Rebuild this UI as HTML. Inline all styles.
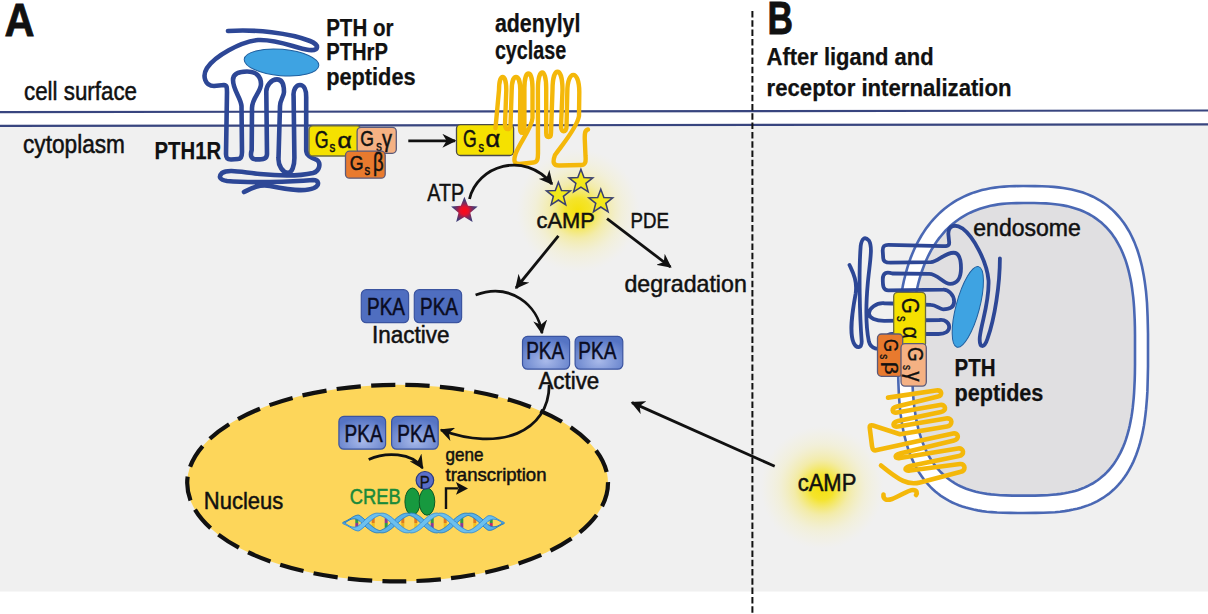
<!DOCTYPE html>
<html><head><meta charset="utf-8"><title>PTH signaling</title>
<style>html,body{margin:0;padding:0;background:#fff;overflow:hidden} svg{display:block}</style>
</head><body><svg width="1208" height="614" viewBox="0 0 1208 614" font-family='"Liberation Sans", sans-serif'>
<defs>
 <radialGradient id="glow" cx="0.5" cy="0.5" r="0.5">
  <stop offset="0" stop-color="#f5e000" stop-opacity="0.95"/>
  <stop offset="0.2" stop-color="#f5e20a" stop-opacity="0.85"/>
  <stop offset="0.45" stop-color="#f5e870" stop-opacity="0.55"/>
  <stop offset="0.7" stop-color="#f5eeb0" stop-opacity="0.35"/>
  <stop offset="0.88" stop-color="#f5f0c8" stop-opacity="0.18"/>
  <stop offset="1" stop-color="#f5f0d8" stop-opacity="0"/>
 </radialGradient>
 <radialGradient id="redstar" cx="0.5" cy="0.55" r="0.5">
  <stop offset="0" stop-color="#ff0818"/>
  <stop offset="0.3" stop-color="#e8102a"/>
  <stop offset="0.55" stop-color="#8a2858"/>
  <stop offset="0.8" stop-color="#4a3a72"/>
  <stop offset="1" stop-color="#3c3a78"/>
 </radialGradient>
 <radialGradient id="pkaAct" cx="0.5" cy="0.75" r="0.7">
  <stop offset="0" stop-color="#a9baea"/>
  <stop offset="1" stop-color="#5574c4"/>
 </radialGradient>
 <marker id="ah" viewBox="0 0 10 10" refX="9" refY="5" markerWidth="5" markerHeight="5" orient="auto" markerUnits="strokeWidth">
  <path d="M0 0 L10 5 L0 10 L3 5 Z" fill="#111"/>
 </marker>
</defs><rect x="0" y="0" width="1208" height="614" fill="#ffffff"/>
<polygon points="0,126.3 1208,124.7 1208,591.5 0,591.5" fill="#f0f0f0"/>
<line x1="0" y1="112.1" x2="1208" y2="110.5" stroke="#38457f" stroke-width="2.2"/>
<line x1="0" y1="125.9" x2="1208" y2="124.3" stroke="#38457f" stroke-width="2.2"/>
<line x1="752.4" y1="11" x2="752.4" y2="614" stroke="#111" stroke-width="2" stroke-dasharray="6.5 2.8"/>
<circle cx="578" cy="210.5" r="62" fill="url(#glow)"/>
<circle cx="822" cy="487.5" r="62" fill="url(#glow)"/>
<ellipse cx="397.6" cy="483.1" rx="210.4" ry="98.3" fill="#fdd65a" stroke="#111" stroke-width="4.2" stroke-dasharray="24.3 10.2"/>
<ellipse cx="281.5" cy="62.5" rx="37.4" ry="13.2" transform="rotate(5 281.5 62.5)" fill="#3ea3e2" stroke="#1f5f9f" stroke-width="1"/>
<path d="M 228 31 C 255 29, 290 33, 310 41 C 320 45, 319 51, 309 50 C 295 48, 278 39, 258 40 C 240 42, 215 56, 207 68 C 202 76, 205 86, 214 86 L 224 85 C 227 85, 227 88, 227 92 L 226 154 C 226 158, 227 159.5, 231 159.5 L 238 159 C 241 159, 242 156, 242 152 L 241.5 106 C 241 98, 233 90, 233 80 C 233 74, 238 71.5, 247 71.5 C 256 71.5, 261 76, 261 84 C 261 92, 252 98, 252 108 L 251.7 150 C 250 156, 251 159.4, 257 159.4 C 263 159.4, 267 159, 267 154 L 266.3 92 C 266 86, 271 79.4, 277 79.4 C 282 79.4, 284 84, 284 92 C 284 96, 280 100, 280 106 L 278.5 158 C 278 166, 283 172.8, 288 172.8 C 292 172.8, 294.4 166, 294.4 158 L 293.6 96 C 293 90, 296 85, 300 85 C 304 85, 306.2 90, 306.2 97 L 306.2 150 C 306 156, 312 158, 317 160 C 321 163, 320 171, 313 173 C 300 176, 280 176, 260 174 C 240 172, 228 169, 222 173 C 218 177, 220 180, 227 181 C 250 183, 290 182, 313 180 C 319 180, 320 185, 314 188 C 305 192, 290 190, 270 186 C 258 184, 250 189, 244 192" fill="none" stroke="#2d4796" stroke-width="4.6" stroke-linecap="round" stroke-linejoin="round"/>
<rect x="309" y="125.8" width="52" height="30.2" rx="4" ry="4" fill="#f5e100" stroke="#6a6a40" stroke-width="1.3"/>
<text x="314.8" y="148" font-size="23" textLength="13.8" lengthAdjust="spacingAndGlyphs" fill="#111" stroke="#111" stroke-width="0.5" >G</text>
<text x="329.6" y="152.3" font-size="14.3" textLength="5.8" lengthAdjust="spacingAndGlyphs" fill="#111" stroke="#111" stroke-width="0.5" >s</text>
<text x="337.6" y="148" font-size="22.4" textLength="14.3" lengthAdjust="spacingAndGlyphs" fill="#111" stroke="#111" stroke-width="0.5" >α</text>
<rect x="357.1" y="127.4" width="39.2" height="25.9" rx="4" ry="4" fill="#f5b183" stroke="#5a5a7a" stroke-width="1.3"/>
<text x="360.3" y="146" font-size="22.4" textLength="13.7" lengthAdjust="spacingAndGlyphs" fill="#111" stroke="#111" stroke-width="0.5" >G</text>
<text x="376.2" y="150.7" font-size="14" textLength="5.6" lengthAdjust="spacingAndGlyphs" fill="#111" stroke="#111" stroke-width="0.5" >s</text>
<text x="382" y="146.6" font-size="24.5" textLength="10" lengthAdjust="spacingAndGlyphs" fill="#111" stroke="#111" stroke-width="0.5" >γ</text>
<rect x="345.5" y="151.2" width="39.7" height="27" rx="4" ry="4" fill="#e87a2e" stroke="#5a5a7a" stroke-width="1.3"/>
<text x="349.7" y="170.3" font-size="20" textLength="13.8" lengthAdjust="spacingAndGlyphs" fill="#111" stroke="#111" stroke-width="0.5" >G</text>
<text x="364.6" y="175" font-size="14" textLength="5.6" lengthAdjust="spacingAndGlyphs" fill="#111" stroke="#111" stroke-width="0.5" >s</text>
<text x="373" y="170.9" font-size="25" textLength="10.6" lengthAdjust="spacingAndGlyphs" fill="#111" stroke="#111" stroke-width="0.5" >β</text>
<rect x="456.5" y="124.6" width="57.1" height="30.9" rx="4" ry="4" fill="#f5e100" stroke="#4a4a4a" stroke-width="1.3"/>
<text x="463" y="147.4" font-size="24.5" textLength="13.7" lengthAdjust="spacingAndGlyphs" fill="#111" stroke="#111" stroke-width="0.5" >G</text>
<text x="478.4" y="151.9" font-size="15" textLength="5.5" lengthAdjust="spacingAndGlyphs" fill="#111" stroke="#111" stroke-width="0.5" >s</text>
<text x="485.5" y="147.4" font-size="23.9" textLength="14.7" lengthAdjust="spacingAndGlyphs" fill="#111" stroke="#111" stroke-width="0.5" >α</text>
<path d="M 495.5 128 L 499 90 C 499 72.5, 506.3 72.5, 506.3 90 L 505 125 C 505 130.5, 510.5 130.5, 510.5 125 L 511.7 90 C 511.7 72.5, 520.3 72.5, 520.3 90 L 520 128 C 520 134.5, 524.4 134.5, 524.4 128 L 524.4 88 C 524.4 68.5, 532.5 68.5, 532.5 88 L 532.5 118 C 532 128, 520 142, 515.5 154 C 513 162, 515 164, 519.5 164 L 533.5 162.5 C 537.5 162, 538 159, 538 153 L 537.9 90 C 537.9 67, 546.2 67, 546.2 88 L 546.2 133 C 546.2 138.3, 551 138.3, 551 133 L 552.5 90 C 552.5 65.6, 562.5 65.6, 562.5 90 L 561 127 C 561 132.6, 566.5 132.6, 566.5 127 L 567.3 92 C 567.3 69.2, 579.3 69.2, 579.3 92 L 579 116 C 577 128, 562 145, 555 155 C 552 163, 554 165.5, 559 165.5 L 581 165 C 585.5 165, 586 162, 585.5 156 L 584.8 140 C 584.5 133, 585 130, 588 129.5" fill="none" stroke="#f4b80a" stroke-width="4.4" stroke-linecap="round" stroke-linejoin="round"/>
<line x1="408.3" y1="140.8" x2="455" y2="140.8" fill="none" stroke="#111" stroke-width="2.8" marker-end="url(#ah)"/>
<path d="M 469.5 199 C 477 166, 524 150, 552 184" fill="none" stroke="#111" stroke-width="2.8" marker-end="url(#ah)"/>
<line x1="558.4" y1="235.9" x2="516" y2="288" fill="none" stroke="#111" stroke-width="2.8" marker-end="url(#ah)"/>
<line x1="607" y1="218.6" x2="670.5" y2="267" fill="none" stroke="#111" stroke-width="2.8" marker-end="url(#ah)"/>
<path d="M 475.6 295 C 510 282, 538 305, 542 333" fill="none" stroke="#111" stroke-width="2.8" marker-end="url(#ah)"/>
<path d="M 549.2 384.7 C 549 432, 500 452, 441 430" fill="none" stroke="#111" stroke-width="2.8" marker-end="url(#ah)"/>
<path d="M 368.7 459.5 C 385 452, 412 452, 422.5 468" fill="none" stroke="#111" stroke-width="2.8" marker-end="url(#ah)"/>
<line x1="774.7" y1="466.3" x2="632" y2="402.6" fill="none" stroke="#111" stroke-width="2.8" marker-end="url(#ah)"/>
<polygon points="464.4,196.8 468.0,205.8 477.7,206.5 470.3,212.7 472.6,222.1 464.4,217.0 456.2,222.1 458.5,212.7 451.1,206.5 460.8,205.8" fill="url(#redstar)"/>
<polygon points="558.4,182.2 561.5,190.4 570.3,190.8 563.4,196.3 565.7,204.8 558.4,200.0 551.1,204.8 553.4,196.3 546.5,190.8 555.3,190.4" fill="#f2e81b" stroke="#3a4070" stroke-width="1.5"/>
<polygon points="580.9,169.3 584.0,177.5 592.8,177.9 585.9,183.4 588.2,191.9 580.9,187.1 573.6,191.9 575.9,183.4 569.0,177.9 577.8,177.5" fill="#f2e81b" stroke="#3a4070" stroke-width="1.5"/>
<polygon points="600.8,189.2 603.9,197.4 612.7,197.8 605.8,203.3 608.1,211.8 600.8,207.0 593.5,211.8 595.8,203.3 588.9,197.8 597.7,197.4" fill="#f2e81b" stroke="#3a4070" stroke-width="1.5"/>
<rect x="361.3" y="289.7" width="47.3" height="33" rx="5" ry="5" fill="#4f6ec0" stroke="#3b54a0" stroke-width="1.2"/><text x="367.0" y="315.3" font-size="24" textLength="38" lengthAdjust="spacingAndGlyphs" fill="#0a0c22" stroke="#0a0c22" stroke-width="0.5" >PKA</text>
<rect x="414.3" y="289.7" width="47.3" height="33" rx="5" ry="5" fill="#4f6ec0" stroke="#3b54a0" stroke-width="1.2"/><text x="420.0" y="315.3" font-size="24" textLength="38" lengthAdjust="spacingAndGlyphs" fill="#0a0c22" stroke="#0a0c22" stroke-width="0.5" >PKA</text>
<rect x="522.5" y="336.4" width="47.1" height="32.8" rx="5" ry="5" fill="url(#pkaAct)" stroke="#3b54a0" stroke-width="1.2"/><text x="526.2" y="359.3" font-size="24" textLength="38" lengthAdjust="spacingAndGlyphs" fill="#0a0c22" stroke="#0a0c22" stroke-width="0.5" >PKA</text>
<rect x="575.1" y="336.4" width="47.7" height="32.8" rx="5" ry="5" fill="url(#pkaAct)" stroke="#3b54a0" stroke-width="1.2"/><text x="578.3" y="359.3" font-size="24" textLength="38" lengthAdjust="spacingAndGlyphs" fill="#0a0c22" stroke="#0a0c22" stroke-width="0.5" >PKA</text>
<rect x="338.9" y="416.4" width="46.7" height="32.8" rx="5" ry="5" fill="url(#pkaAct)" stroke="#3b54a0" stroke-width="1.2"/><text x="344.6" y="442.0" font-size="24" textLength="38" lengthAdjust="spacingAndGlyphs" fill="#0a0c22" stroke="#0a0c22" stroke-width="0.5" >PKA</text>
<rect x="391.6" y="416.4" width="46.6" height="32.8" rx="5" ry="5" fill="url(#pkaAct)" stroke="#3b54a0" stroke-width="1.2"/><text x="397.3" y="442.0" font-size="24" textLength="38" lengthAdjust="spacingAndGlyphs" fill="#0a0c22" stroke="#0a0c22" stroke-width="0.5" >PKA</text>
<ellipse cx="412.5" cy="501.6" rx="7.6" ry="13.6" fill="#17993f" stroke="#0b5a24" stroke-width="1"/>
<ellipse cx="427" cy="501.6" rx="7.8" ry="13.6" fill="#17993f" stroke="#0b5a24" stroke-width="1"/>
<circle cx="424.9" cy="480.3" r="8.8" fill="#5a6ec8" stroke="#2a3a80" stroke-width="1.2"/>
<text x="419.8" y="487.8" font-size="17" textLength="10" lengthAdjust="spacingAndGlyphs" fill="#111" stroke="#111" stroke-width="0.3" >P</text>
<line x1="356.8" y1="518.3" x2="356.8" y2="523.0" stroke="#2f9a4a" stroke-width="3"/><line x1="356.8" y1="523.0" x2="356.8" y2="527.7" stroke="#8a3a98" stroke-width="3"/><line x1="373.2" y1="517.4" x2="373.2" y2="523.0" stroke="#e07a1f" stroke-width="3"/><line x1="373.2" y1="523.0" x2="373.2" y2="528.6" stroke="#f0c020" stroke-width="3"/><line x1="386.2" y1="517.4" x2="386.2" y2="523.0" stroke="#8a3a98" stroke-width="3"/><line x1="386.2" y1="523.0" x2="386.2" y2="528.6" stroke="#2f9a4a" stroke-width="3"/><line x1="402.8" y1="517.4" x2="402.8" y2="523.0" stroke="#e07a1f" stroke-width="3"/><line x1="402.8" y1="523.0" x2="402.8" y2="528.6" stroke="#e8b020" stroke-width="3"/><line x1="415.8" y1="517.4" x2="415.8" y2="523.0" stroke="#e07a1f" stroke-width="3"/><line x1="415.8" y1="523.0" x2="415.8" y2="528.6" stroke="#f0c020" stroke-width="3"/><line x1="432.2" y1="517.4" x2="432.2" y2="523.0" stroke="#2f9a4a" stroke-width="3"/><line x1="432.2" y1="523.0" x2="432.2" y2="528.6" stroke="#8a3a98" stroke-width="3"/><line x1="445.2" y1="517.4" x2="445.2" y2="523.0" stroke="#e07a1f" stroke-width="3"/><line x1="445.2" y1="523.0" x2="445.2" y2="528.6" stroke="#f0c020" stroke-width="3"/><line x1="461.8" y1="517.4" x2="461.8" y2="523.0" stroke="#2f9a4a" stroke-width="3"/><line x1="461.8" y1="523.0" x2="461.8" y2="528.6" stroke="#8a3a98" stroke-width="3"/><line x1="474.8" y1="517.4" x2="474.8" y2="523.0" stroke="#e07a1f" stroke-width="3"/><line x1="474.8" y1="523.0" x2="474.8" y2="528.6" stroke="#f0c020" stroke-width="3"/><line x1="491.2" y1="518.7" x2="491.2" y2="523.0" stroke="#2f9a4a" stroke-width="3"/><line x1="491.2" y1="523.0" x2="491.2" y2="527.3" stroke="#c02a6a" stroke-width="3"/><path d="M 343.0 522.3 L 344.0 521.9 L 345.0 521.4 L 346.0 521.0 L 347.0 520.5 L 348.0 519.9 L 349.0 519.3 L 350.0 518.8 L 351.1 518.1 L 352.1 517.4 L 353.1 516.8 L 354.1 516.3 L 355.1 515.8 L 356.1 515.5 L 357.1 515.2 L 358.1 515.1 L 359.1 515.2 L 360.1 515.9 L 361.1 516.6 L 362.1 517.4 L 363.1 518.2 L 364.1 519.1 L 365.1 520.0 L 366.1 521.0 L 367.1 521.9 L 368.2 522.9 L 369.2 523.8 L 370.2 524.7 L 371.2 525.6 L 372.2 526.4 L 373.2 527.2 L 374.2 528.0 L 375.2 528.6 L 376.2 529.2 L 377.2 529.7 L 378.2 530.1 L 379.2 530.5 L 380.2 530.5 L 381.2 530.2 L 382.2 529.7 L 383.2 529.2 L 384.3 528.7 L 385.3 528.0 L 386.3 527.3 L 387.3 526.5 L 388.3 525.6 L 389.3 524.7 L 390.3 523.8 L 391.3 522.9 L 392.3 521.9 L 393.3 521.0 L 394.3 520.1 L 395.3 519.2 L 396.3 518.3 L 397.3 517.4 L 398.3 516.7 L 399.4 515.9 L 400.4 515.3 L 401.4 514.7 L 402.4 514.2 L 403.4 513.8 L 404.4 513.5 L 405.4 513.3 L 406.4 513.2 L 407.4 513.2 L 408.4 513.2 L 409.4 513.4 L 410.4 513.2 L 411.4 513.1 L 412.4 513.2 L 413.4 513.3 L 414.4 513.6 L 415.4 513.9 L 416.5 514.4 L 417.5 514.9 L 418.5 515.5 L 419.5 516.2 L 420.5 516.9 L 421.5 517.7 L 422.5 518.6 L 423.5 519.4 L 424.5 520.4 L 425.5 521.3 L 426.5 522.3 L 427.5 523.2 L 428.5 524.1 L 429.5 525.0 L 430.5 525.9 L 431.6 526.7 L 432.6 527.5 L 433.6 528.2 L 434.6 528.9 L 435.6 529.4 L 436.6 529.9 L 437.6 530.3 L 438.6 530.6 L 439.6 530.4 L 440.6 530.0 L 441.6 529.6 L 442.6 529.0 L 443.6 528.4 L 444.6 527.7 L 445.6 527.0 L 446.6 526.2 L 447.6 525.3 L 448.7 524.4 L 449.7 523.5 L 450.7 522.5 L 451.7 521.6 L 452.7 520.7 L 453.7 519.7 L 454.7 518.8 L 455.7 518.0 L 456.7 517.1 L 457.7 516.4 L 458.7 515.7 L 459.7 515.1 L 460.7 514.5 L 461.7 514.0 L 462.7 513.7 L 463.8 513.4 L 464.8 513.2 L 465.8 513.2 L 466.8 513.2 L 467.8 513.3 L 468.8 513.3 L 469.8 513.2 L 470.8 513.2 L 471.8 513.2 L 472.8 513.4 L 473.8 513.7 L 474.8 514.1 L 475.8 514.5 L 476.8 515.1 L 477.8 515.7 L 478.8 516.4 L 479.9 517.2 L 480.9 518.0 L 481.9 518.9 L 482.9 519.8 L 483.9 520.7 L 484.9 521.7 L 485.9 522.6 L 486.9 523.5 L 487.9 524.5 L 488.9 525.2 L 489.9 525.8 L 490.9 526.3 L 491.9 526.6 L 492.9 526.8 L 493.9 526.8 L 494.9 526.7 L 495.9 526.5 L 497.0 526.3 L 498.0 525.8 L 499.0 525.3 L 500.0 524.7 L 501.0 524.0 L 502.0 523.4 L 503.0 522.8 L 504.0 522.3 L 504.0 523.7 L 503.0 524.1 L 502.0 524.5 L 501.0 525.0 L 500.0 525.6 L 499.0 526.1 L 498.0 526.6 L 497.0 527.3 L 495.9 528.0 L 494.9 528.6 L 493.9 529.1 L 492.9 529.6 L 491.9 530.0 L 490.9 530.2 L 489.9 530.3 L 488.9 530.3 L 487.9 530.1 L 486.9 529.4 L 485.9 528.6 L 484.9 527.8 L 483.9 526.9 L 482.9 526.0 L 481.9 525.0 L 480.9 524.1 L 479.9 523.2 L 478.8 522.2 L 477.8 521.3 L 476.8 520.4 L 475.8 519.6 L 474.8 518.8 L 473.8 518.0 L 472.8 517.4 L 471.8 516.8 L 470.8 516.3 L 469.8 515.9 L 468.8 515.5 L 467.8 515.5 L 466.8 515.8 L 465.8 516.2 L 464.8 516.8 L 463.8 517.3 L 462.7 518.0 L 461.7 518.7 L 460.7 519.5 L 459.7 520.4 L 458.7 521.2 L 457.7 522.2 L 456.7 523.1 L 455.7 524.0 L 454.7 525.0 L 453.7 525.9 L 452.7 526.8 L 451.7 527.7 L 450.7 528.6 L 449.7 529.3 L 448.7 530.1 L 447.6 530.7 L 446.6 531.3 L 445.6 531.8 L 444.6 532.2 L 443.6 532.5 L 442.6 532.7 L 441.6 532.8 L 440.6 532.8 L 439.6 532.8 L 438.6 532.6 L 437.6 532.8 L 436.6 532.9 L 435.6 532.8 L 434.6 532.7 L 433.6 532.4 L 432.6 532.1 L 431.6 531.7 L 430.5 531.1 L 429.5 530.5 L 428.5 529.9 L 427.5 529.1 L 426.5 528.3 L 425.5 527.5 L 424.5 526.6 L 423.5 525.6 L 422.5 524.7 L 421.5 523.8 L 420.5 522.8 L 419.5 521.9 L 418.5 521.0 L 417.5 520.1 L 416.5 519.3 L 415.4 518.5 L 414.4 517.8 L 413.4 517.1 L 412.4 516.6 L 411.4 516.1 L 410.4 515.7 L 409.4 515.4 L 408.4 515.6 L 407.4 516.0 L 406.4 516.4 L 405.4 517.0 L 404.4 517.6 L 403.4 518.3 L 402.4 519.0 L 401.4 519.8 L 400.4 520.7 L 399.4 521.6 L 398.3 522.5 L 397.3 523.4 L 396.3 524.4 L 395.3 525.3 L 394.3 526.3 L 393.3 527.2 L 392.3 528.0 L 391.3 528.9 L 390.3 529.6 L 389.3 530.3 L 388.3 530.9 L 387.3 531.5 L 386.3 532.0 L 385.3 532.3 L 384.3 532.6 L 383.2 532.8 L 382.2 532.8 L 381.2 532.8 L 380.2 532.7 L 379.2 532.7 L 378.2 532.8 L 377.2 532.8 L 376.2 532.8 L 375.2 532.6 L 374.2 532.3 L 373.2 531.9 L 372.2 531.5 L 371.2 530.9 L 370.2 530.3 L 369.2 529.6 L 368.2 528.8 L 367.1 528.0 L 366.1 527.1 L 365.1 526.2 L 364.1 525.3 L 363.1 524.4 L 362.1 523.4 L 361.1 522.5 L 360.1 521.5 L 359.1 520.6 L 358.1 520.0 L 357.1 519.5 L 356.1 519.1 L 355.1 518.9 L 354.1 518.8 L 353.1 518.9 L 352.1 519.0 L 351.1 519.3 L 350.0 519.7 L 349.0 520.3 L 348.0 520.8 L 347.0 521.5 L 346.0 522.1 L 345.0 522.7 L 344.0 523.3 L 343.0 523.7 Z" fill="#5ab2e8" stroke="#2a7fc0" stroke-width="1"/><path d="M 343.0 522.3 L 344.0 522.7 L 345.0 523.3 L 346.0 523.9 L 347.0 524.5 L 348.0 525.2 L 349.0 525.7 L 350.0 526.3 L 351.1 526.7 L 352.1 527.0 L 353.1 527.1 L 354.1 527.2 L 355.1 527.1 L 356.1 526.9 L 357.1 526.5 L 358.1 526.0 L 359.1 525.4 L 360.1 524.5 L 361.1 523.5 L 362.1 522.6 L 363.1 521.6 L 364.1 520.7 L 365.1 519.8 L 366.1 518.9 L 367.1 518.0 L 368.2 517.2 L 369.2 516.4 L 370.2 515.7 L 371.2 515.1 L 372.2 514.5 L 373.2 514.1 L 374.2 513.7 L 375.2 513.4 L 376.2 513.2 L 377.2 513.2 L 378.2 513.2 L 379.2 513.3 L 380.2 513.3 L 381.2 513.2 L 382.2 513.2 L 383.2 513.2 L 384.3 513.4 L 385.3 513.7 L 386.3 514.0 L 387.3 514.5 L 388.3 515.1 L 389.3 515.7 L 390.3 516.4 L 391.3 517.1 L 392.3 518.0 L 393.3 518.8 L 394.3 519.7 L 395.3 520.7 L 396.3 521.6 L 397.3 522.6 L 398.3 523.5 L 399.4 524.4 L 400.4 525.3 L 401.4 526.2 L 402.4 527.0 L 403.4 527.7 L 404.4 528.4 L 405.4 529.0 L 406.4 529.6 L 407.4 530.0 L 408.4 530.4 L 409.4 530.6 L 410.4 530.3 L 411.4 529.9 L 412.4 529.4 L 413.4 528.9 L 414.4 528.2 L 415.4 527.5 L 416.5 526.7 L 417.5 525.9 L 418.5 525.0 L 419.5 524.1 L 420.5 523.2 L 421.5 522.2 L 422.5 521.3 L 423.5 520.4 L 424.5 519.4 L 425.5 518.5 L 426.5 517.7 L 427.5 516.9 L 428.5 516.1 L 429.5 515.5 L 430.5 514.9 L 431.6 514.3 L 432.6 513.9 L 433.6 513.6 L 434.6 513.3 L 435.6 513.2 L 436.6 513.1 L 437.6 513.2 L 438.6 513.4 L 439.6 513.2 L 440.6 513.2 L 441.6 513.2 L 442.6 513.3 L 443.6 513.5 L 444.6 513.8 L 445.6 514.2 L 446.6 514.7 L 447.6 515.3 L 448.7 515.9 L 449.7 516.7 L 450.7 517.4 L 451.7 518.3 L 452.7 519.2 L 453.7 520.1 L 454.7 521.0 L 455.7 522.0 L 456.7 522.9 L 457.7 523.8 L 458.7 524.8 L 459.7 525.6 L 460.7 526.5 L 461.7 527.3 L 462.7 528.0 L 463.8 528.7 L 464.8 529.2 L 465.8 529.8 L 466.8 530.2 L 467.8 530.5 L 468.8 530.5 L 469.8 530.1 L 470.8 529.7 L 471.8 529.2 L 472.8 528.6 L 473.8 528.0 L 474.8 527.2 L 475.8 526.4 L 476.8 525.6 L 477.8 524.7 L 478.8 523.8 L 479.9 522.8 L 480.9 521.9 L 481.9 521.0 L 482.9 520.0 L 483.9 519.1 L 484.9 518.2 L 485.9 517.4 L 486.9 516.6 L 487.9 515.9 L 488.9 515.7 L 489.9 515.7 L 490.9 515.8 L 491.9 516.0 L 492.9 516.4 L 493.9 516.9 L 494.9 517.4 L 495.9 518.0 L 497.0 518.7 L 498.0 519.4 L 499.0 519.9 L 500.0 520.4 L 501.0 521.0 L 502.0 521.5 L 503.0 521.9 L 504.0 522.3 L 504.0 523.7 L 503.0 523.2 L 502.0 522.6 L 501.0 522.0 L 500.0 521.3 L 499.0 520.7 L 498.0 520.2 L 497.0 519.7 L 495.9 519.5 L 494.9 519.3 L 493.9 519.2 L 492.9 519.2 L 491.9 519.4 L 490.9 519.7 L 489.9 520.2 L 488.9 520.8 L 487.9 521.5 L 486.9 522.5 L 485.9 523.4 L 484.9 524.3 L 483.9 525.3 L 482.9 526.2 L 481.9 527.1 L 480.9 528.0 L 479.9 528.8 L 478.8 529.6 L 477.8 530.3 L 476.8 530.9 L 475.8 531.5 L 474.8 531.9 L 473.8 532.3 L 472.8 532.6 L 471.8 532.8 L 470.8 532.8 L 469.8 532.8 L 468.8 532.7 L 467.8 532.7 L 466.8 532.8 L 465.8 532.8 L 464.8 532.8 L 463.8 532.6 L 462.7 532.3 L 461.7 532.0 L 460.7 531.5 L 459.7 530.9 L 458.7 530.3 L 457.7 529.6 L 456.7 528.9 L 455.7 528.0 L 454.7 527.2 L 453.7 526.3 L 452.7 525.3 L 451.7 524.4 L 450.7 523.5 L 449.7 522.5 L 448.7 521.6 L 447.6 520.7 L 446.6 519.8 L 445.6 519.0 L 444.6 518.3 L 443.6 517.6 L 442.6 517.0 L 441.6 516.4 L 440.6 516.0 L 439.6 515.6 L 438.6 515.4 L 437.6 515.7 L 436.6 516.1 L 435.6 516.6 L 434.6 517.1 L 433.6 517.8 L 432.6 518.5 L 431.6 519.3 L 430.5 520.1 L 429.5 521.0 L 428.5 521.9 L 427.5 522.8 L 426.5 523.7 L 425.5 524.7 L 424.5 525.6 L 423.5 526.6 L 422.5 527.4 L 421.5 528.3 L 420.5 529.1 L 419.5 529.8 L 418.5 530.5 L 417.5 531.1 L 416.5 531.6 L 415.4 532.1 L 414.4 532.4 L 413.4 532.7 L 412.4 532.8 L 411.4 532.9 L 410.4 532.8 L 409.4 532.6 L 408.4 532.8 L 407.4 532.8 L 406.4 532.8 L 405.4 532.7 L 404.4 532.5 L 403.4 532.2 L 402.4 531.8 L 401.4 531.3 L 400.4 530.7 L 399.4 530.1 L 398.3 529.3 L 397.3 528.6 L 396.3 527.7 L 395.3 526.8 L 394.3 525.9 L 393.3 525.0 L 392.3 524.1 L 391.3 523.1 L 390.3 522.2 L 389.3 521.3 L 388.3 520.4 L 387.3 519.5 L 386.3 518.7 L 385.3 518.0 L 384.3 517.3 L 383.2 516.8 L 382.2 516.3 L 381.2 515.8 L 380.2 515.5 L 379.2 515.5 L 378.2 515.9 L 377.2 516.3 L 376.2 516.8 L 375.2 517.4 L 374.2 518.0 L 373.2 518.8 L 372.2 519.6 L 371.2 520.4 L 370.2 521.3 L 369.2 522.2 L 368.2 523.1 L 367.1 524.1 L 366.1 525.0 L 365.1 526.0 L 364.1 526.9 L 363.1 527.8 L 362.1 528.6 L 361.1 529.4 L 360.1 530.1 L 359.1 530.8 L 358.1 530.9 L 357.1 530.8 L 356.1 530.5 L 355.1 530.2 L 354.1 529.7 L 353.1 529.2 L 352.1 528.6 L 351.1 527.9 L 350.0 527.2 L 349.0 526.7 L 348.0 526.1 L 347.0 525.5 L 346.0 525.0 L 345.0 524.6 L 344.0 524.1 L 343.0 523.7 Z" fill="#6cc0ee" stroke="#3a90d4" stroke-width="1"/>
<path d="M 446 509 L 446 488.4 L 458 488.4" fill="none" stroke="#111" stroke-width="2.4"/>
<polygon points="468,488.4 456,482 458.5,488.4 456,494.8" fill="#111"/>
<text x="4.6" y="35.9" font-size="47" font-weight="700" textLength="30" lengthAdjust="spacingAndGlyphs" fill="#111" stroke="#111" stroke-width="0.8" >A</text>
<text x="24" y="100" font-size="25" textLength="113" lengthAdjust="spacingAndGlyphs" fill="#111" stroke="#111" stroke-width="0.5" >cell surface</text>
<text x="23" y="152.5" font-size="25" textLength="102" lengthAdjust="spacingAndGlyphs" fill="#111" stroke="#111" stroke-width="0.5" >cytoplasm</text>
<text x="154.5" y="159.4" font-size="24" font-weight="700" textLength="66.6" lengthAdjust="spacingAndGlyphs" fill="#111" stroke="#111" stroke-width="0.25" >PTH1R</text>
<text x="326.2" y="35.6" font-size="23" font-weight="700" textLength="67.2" lengthAdjust="spacingAndGlyphs" fill="#111" stroke="#111" stroke-width="0.25" >PTH or</text>
<text x="326.2" y="59.9" font-size="23" font-weight="700" textLength="61.7" lengthAdjust="spacingAndGlyphs" fill="#111" stroke="#111" stroke-width="0.25" >PTHrP</text>
<text x="326.2" y="84.8" font-size="23" font-weight="700" textLength="89.4" lengthAdjust="spacingAndGlyphs" fill="#111" stroke="#111" stroke-width="0.25" >peptides</text>
<text x="494.9" y="31.9" font-size="25" font-weight="700" textLength="85.5" lengthAdjust="spacingAndGlyphs" fill="#111" stroke="#111" stroke-width="0.25" >adenylyl</text>
<text x="494.9" y="58.8" font-size="25" font-weight="700" textLength="71.3" lengthAdjust="spacingAndGlyphs" fill="#111" stroke="#111" stroke-width="0.25" >cyclase</text>
<text x="427.3" y="201" font-size="23.7" textLength="36.8" lengthAdjust="spacingAndGlyphs" fill="#111" stroke="#111" stroke-width="0.5" >ATP</text>
<text x="536.5" y="227.5" font-size="22.5" textLength="58.3" lengthAdjust="spacingAndGlyphs" fill="#111" stroke="#111" stroke-width="0.5" >cAMP</text>
<text x="630.6" y="227.5" font-size="22.5" textLength="38.4" lengthAdjust="spacingAndGlyphs" fill="#111" stroke="#111" stroke-width="0.5" >PDE</text>
<text x="624.4" y="291.5" font-size="24" textLength="122.4" lengthAdjust="spacingAndGlyphs" fill="#111" stroke="#111" stroke-width="0.5" >degradation</text>
<text x="372.1" y="343.3" font-size="23" textLength="77.5" lengthAdjust="spacingAndGlyphs" fill="#111" stroke="#111" stroke-width="0.5" >Inactive</text>
<text x="538.4" y="389.3" font-size="23" textLength="60.9" lengthAdjust="spacingAndGlyphs" fill="#111" stroke="#111" stroke-width="0.5" >Active</text>
<text x="203.8" y="509" font-size="24.5" textLength="79.4" lengthAdjust="spacingAndGlyphs" fill="#111" stroke="#111" stroke-width="0.5" >Nucleus</text>
<text x="349.7" y="503.6" font-size="21.5" textLength="51" lengthAdjust="spacingAndGlyphs" fill="#1a8a3a" stroke="#1a8a3a" stroke-width="0.5" >CREB</text>
<text x="445.5" y="461.4" font-size="18.5" textLength="38" lengthAdjust="spacingAndGlyphs" fill="#111" stroke="#111" stroke-width="0.5" >gene</text>
<text x="445.5" y="480.7" font-size="18.5" textLength="101" lengthAdjust="spacingAndGlyphs" fill="#111" stroke="#111" stroke-width="0.5" >transcription</text>
<text x="767.4" y="34" font-size="46" font-weight="700" textLength="25.5" lengthAdjust="spacingAndGlyphs" fill="#111" stroke="#111" stroke-width="0.9" >B</text>
<text x="766.6" y="64.8" font-size="23" font-weight="700" textLength="167" lengthAdjust="spacingAndGlyphs" fill="#111" stroke="#111" stroke-width="0.25" >After ligand and</text>
<text x="766.6" y="96.4" font-size="23" font-weight="700" textLength="245" lengthAdjust="spacingAndGlyphs" fill="#111" stroke="#111" stroke-width="0.25" >receptor internalization</text>
<path d="M 1148.0,349.5 L 1148.0,366.4 L 1147.8,376.1 L 1147.6,384.2 L 1147.4,391.4 L 1147.0,397.9 L 1146.5,404.0 L 1146.0,409.7 L 1145.4,415.1 L 1144.7,420.3 L 1144.0,425.2 L 1143.1,429.9 L 1142.2,434.4 L 1141.2,438.7 L 1140.1,442.9 L 1138.9,446.9 L 1137.6,450.8 L 1136.3,454.5 L 1134.9,458.1 L 1133.4,461.6 L 1131.8,464.9 L 1130.1,468.1 L 1128.4,471.2 L 1126.5,474.2 L 1124.6,477.0 L 1122.6,479.8 L 1120.5,482.4 L 1118.3,484.9 L 1116.0,487.3 L 1113.7,489.6 L 1111.2,491.8 L 1108.7,493.9 L 1106.0,495.8 L 1103.3,497.7 L 1100.4,499.4 L 1097.5,501.1 L 1094.4,502.6 L 1091.2,504.1 L 1087.9,505.4 L 1084.5,506.6 L 1080.9,507.7 L 1077.1,508.7 L 1073.2,509.6 L 1069.1,510.4 L 1064.7,511.1 L 1060.0,511.7 L 1055.0,512.2 L 1049.5,512.5 L 1043.4,512.8 L 1035.9,512.9 L 1023.0,513.0 L 1010.6,512.9 L 1003.3,512.8 L 997.1,512.5 L 991.7,512.1 L 986.7,511.7 L 982.1,511.1 L 977.7,510.4 L 973.6,509.6 L 969.6,508.6 L 965.9,507.6 L 962.3,506.5 L 958.8,505.3 L 955.5,503.9 L 952.3,502.5 L 949.2,500.9 L 946.2,499.2 L 943.3,497.4 L 940.5,495.6 L 937.9,493.6 L 935.3,491.5 L 932.8,489.2 L 930.4,486.9 L 928.1,484.5 L 925.9,481.9 L 923.8,479.3 L 921.8,476.5 L 919.8,473.6 L 917.9,470.6 L 916.2,467.5 L 914.5,464.2 L 912.9,460.9 L 911.3,457.4 L 909.9,453.7 L 908.5,450.0 L 907.3,446.1 L 906.1,442.0 L 905.0,437.8 L 903.9,433.5 L 903.0,428.9 L 902.1,424.2 L 901.3,419.3 L 900.6,414.2 L 900.0,408.7 L 899.5,403.0 L 899.0,397.0 L 898.7,390.4 L 898.4,383.3 L 898.2,375.3 L 898.0,365.8 L 898.0,349.5 L 898.0,339.2 L 898.2,331.6 L 898.4,324.8 L 898.8,318.5 L 899.2,312.4 L 899.8,306.7 L 900.4,301.1 L 901.2,295.8 L 902.0,290.6 L 902.9,285.6 L 903.9,280.7 L 905.1,276.0 L 906.3,271.4 L 907.6,266.9 L 909.0,262.6 L 910.5,258.3 L 912.1,254.2 L 913.8,250.2 L 915.6,246.4 L 917.5,242.6 L 919.5,239.0 L 921.5,235.5 L 923.7,232.1 L 925.9,228.8 L 928.3,225.6 L 930.7,222.5 L 933.2,219.6 L 935.8,216.8 L 938.5,214.1 L 941.3,211.5 L 944.2,209.0 L 947.1,206.7 L 950.2,204.5 L 953.3,202.4 L 956.5,200.4 L 959.9,198.6 L 963.3,196.8 L 966.8,195.3 L 970.4,193.8 L 974.1,192.4 L 978.0,191.2 L 981.9,190.1 L 986.0,189.2 L 990.3,188.3 L 994.7,187.6 L 999.3,187.0 L 1004.1,186.6 L 1009.3,186.3 L 1015.2,186.1 L 1023.0,186.0 L 1035.0,186.1 L 1042.1,186.2 L 1048.2,186.5 L 1053.6,186.9 L 1058.5,187.4 L 1063.2,188.0 L 1067.5,188.7 L 1071.7,189.5 L 1075.6,190.4 L 1079.4,191.5 L 1083.0,192.6 L 1086.5,193.9 L 1089.8,195.2 L 1093.1,196.7 L 1096.2,198.3 L 1099.2,200.0 L 1102.1,201.8 L 1104.9,203.7 L 1107.6,205.7 L 1110.2,207.9 L 1112.7,210.1 L 1115.1,212.5 L 1117.4,215.0 L 1119.7,217.5 L 1121.8,220.2 L 1123.9,223.0 L 1125.9,226.0 L 1127.7,229.0 L 1129.6,232.2 L 1131.3,235.5 L 1132.9,238.9 L 1134.5,242.4 L 1135.9,246.1 L 1137.3,249.8 L 1138.6,253.8 L 1139.8,257.9 L 1140.9,262.1 L 1142.0,266.5 L 1142.9,271.0 L 1143.8,275.8 L 1144.6,280.7 L 1145.3,285.9 L 1146.0,291.3 L 1146.5,297.0 L 1147.0,303.0 L 1147.3,309.5 L 1147.6,316.6 L 1147.8,324.5 L 1148.0,333.8 Z" fill="#ffffff" stroke="#4a68b4" stroke-width="2.6"/>
<path d="M 1135.0,349.3 L 1135.0,364.4 L 1134.9,373.1 L 1134.7,380.4 L 1134.4,386.8 L 1134.1,392.6 L 1133.7,398.1 L 1133.2,403.2 L 1132.7,408.0 L 1132.1,412.6 L 1131.4,417.0 L 1130.6,421.2 L 1129.8,425.3 L 1128.9,429.1 L 1127.9,432.9 L 1126.9,436.5 L 1125.8,439.9 L 1124.6,443.3 L 1123.3,446.5 L 1121.9,449.6 L 1120.5,452.6 L 1119.0,455.4 L 1117.5,458.2 L 1115.8,460.9 L 1114.1,463.4 L 1112.3,465.9 L 1110.5,468.2 L 1108.5,470.5 L 1106.5,472.6 L 1104.4,474.7 L 1102.2,476.6 L 1099.9,478.5 L 1097.6,480.2 L 1095.1,481.9 L 1092.6,483.5 L 1089.9,484.9 L 1087.2,486.3 L 1084.4,487.6 L 1081.4,488.8 L 1078.3,489.9 L 1075.1,490.9 L 1071.8,491.8 L 1068.3,492.6 L 1064.6,493.3 L 1060.7,493.9 L 1056.5,494.4 L 1052.1,494.8 L 1047.2,495.2 L 1041.7,495.4 L 1035.0,495.6 L 1023.5,495.6 L 1012.4,495.6 L 1005.9,495.4 L 1000.4,495.2 L 995.6,494.8 L 991.1,494.4 L 987.0,493.9 L 983.1,493.2 L 979.4,492.5 L 975.9,491.7 L 972.5,490.8 L 969.3,489.8 L 966.2,488.7 L 963.3,487.5 L 960.4,486.2 L 957.6,484.8 L 955.0,483.3 L 952.4,481.7 L 949.9,480.0 L 947.6,478.2 L 945.3,476.3 L 943.0,474.3 L 940.9,472.3 L 938.9,470.1 L 936.9,467.8 L 935.0,465.4 L 933.2,462.9 L 931.4,460.3 L 929.8,457.7 L 928.2,454.9 L 926.7,452.0 L 925.3,448.9 L 923.9,445.8 L 922.6,442.6 L 921.4,439.2 L 920.3,435.7 L 919.2,432.1 L 918.2,428.3 L 917.3,424.4 L 916.4,420.4 L 915.7,416.2 L 915.0,411.8 L 914.3,407.2 L 913.8,402.3 L 913.3,397.2 L 912.9,391.8 L 912.6,385.9 L 912.3,379.6 L 912.1,372.4 L 912.0,363.9 L 912.0,349.3 L 912.0,340.1 L 912.2,333.3 L 912.4,327.2 L 912.7,321.5 L 913.1,316.1 L 913.6,311.0 L 914.2,306.0 L 914.8,301.2 L 915.6,296.6 L 916.4,292.1 L 917.3,287.8 L 918.3,283.5 L 919.4,279.4 L 920.6,275.4 L 921.8,271.5 L 923.2,267.7 L 924.6,264.1 L 926.1,260.5 L 927.7,257.0 L 929.4,253.7 L 931.1,250.4 L 933.0,247.3 L 934.9,244.2 L 936.9,241.3 L 939.0,238.4 L 941.2,235.7 L 943.4,233.1 L 945.7,230.5 L 948.1,228.1 L 950.6,225.8 L 953.2,223.6 L 955.8,221.5 L 958.5,219.5 L 961.3,217.7 L 964.2,215.9 L 967.2,214.2 L 970.2,212.7 L 973.4,211.3 L 976.6,210.0 L 979.9,208.8 L 983.3,207.7 L 986.9,206.7 L 990.5,205.8 L 994.3,205.1 L 998.2,204.4 L 1002.3,203.9 L 1006.7,203.5 L 1011.3,203.2 L 1016.5,203.1 L 1023.5,203.0 L 1034.2,203.0 L 1040.6,203.2 L 1046.0,203.4 L 1050.8,203.8 L 1055.2,204.2 L 1059.3,204.8 L 1063.2,205.4 L 1066.9,206.1 L 1070.4,207.0 L 1073.8,207.9 L 1077.0,208.9 L 1080.1,210.0 L 1083.1,211.3 L 1086.0,212.6 L 1088.8,214.0 L 1091.5,215.5 L 1094.0,217.1 L 1096.5,218.9 L 1098.9,220.7 L 1101.3,222.6 L 1103.5,224.6 L 1105.7,226.7 L 1107.7,228.9 L 1109.7,231.2 L 1111.7,233.6 L 1113.5,236.2 L 1115.3,238.8 L 1116.9,241.5 L 1118.5,244.3 L 1120.1,247.3 L 1121.5,250.3 L 1122.9,253.5 L 1124.2,256.7 L 1125.5,260.1 L 1126.6,263.6 L 1127.7,267.3 L 1128.7,271.1 L 1129.6,275.0 L 1130.5,279.1 L 1131.3,283.3 L 1132.0,287.7 L 1132.6,292.3 L 1133.2,297.2 L 1133.7,302.3 L 1134.1,307.7 L 1134.4,313.5 L 1134.7,319.8 L 1134.9,326.9 L 1135.0,335.3 Z" fill="#e0dfe1" stroke="#4a68b4" stroke-width="2.6"/>
<ellipse cx="967.8" cy="306.9" rx="11.7" ry="41.7" transform="rotate(15 967.8 306.9)" fill="#3ea3e2" stroke="#1f5f9f" stroke-width="1"/>
<g transform="matrix(0,1.11,-0.874,0,1023.5,-5.9)"><path d="M 238 27.0 C 262 27.0, 292 33.0, 310 41.0 C 320 45.0, 319 51.0, 309 50.0 C 295 48.0, 278 39.0, 258 40.0 C 240 42.0, 218 58.0, 211 70.0 C 207 78.0, 208 86.0, 216 86.0 L 224 85.0 C 227 85.0, 227 88.0, 227 92.0 L 226 154.7 C 226 159.4, 227 161.1, 231 161.1 L 238 160.5 C 241 160.5, 242 157.0, 242 152.3 L 241.5 106.0 C 241 98.0, 233 90.0, 233 80.0 C 233 74.0, 238 71.5, 247 71.5 C 256 71.5, 261 76.0, 261 84.0 C 261 92.0, 252 98.0, 252 108.0 L 251.7 150.0 C 250 157.0, 251 161.0, 257 161.0 C 263 161.0, 267 160.5, 267 154.7 L 266.3 92.0 C 266 86.0, 271 79.4, 277 79.4 C 282 79.4, 284 84.0, 284 92.0 C 284 96.0, 280 100.0, 280 106.0 L 278.5 159.4 C 278 168.7, 283 176.7, 288 176.7 C 292 176.7, 294.4 168.7, 294.4 159.4 L 293.6 96.0 C 293 90.0, 296 85.0, 300 85.0 C 304 85.0, 306.2 90.0, 306.2 97.0 L 306.2 150.0 C 306 157.0, 312 159.4, 317 161.7 C 321 165.2, 320 174.6, 313 176.9 C 300 180.4, 280 180.4, 260 178.1 C 240 175.7, 228 172.2, 222 176.9 C 218 181.6, 220 185.1, 227 186.3 C 250 188.6, 290 187.4, 313 185.1 C 319 185.1, 320 190.9, 314 194.5 C 305 199.1, 290 196.8, 270 192.1 C 258 189.8, 250 195.6, 244 199.1" fill="none" stroke="#2d4796" stroke-width="3.8" vector-effect="non-scaling-stroke" stroke-linecap="round" stroke-linejoin="round"/></g>
<rect x="893.7" y="292.4" width="31.8" height="55" rx="4" ry="4" fill="#f5e100" stroke="#6a6a40" stroke-width="1.3"/>
<rect x="877.5" y="334" width="25.2" height="42.3" rx="4" ry="4" fill="#e87a2e" stroke="#5a5a7a" stroke-width="1.3"/>
<rect x="901" y="343.7" width="25.3" height="42.4" rx="4" ry="4" fill="#f5b183" stroke="#5a5a7a" stroke-width="1.3"/>
<g transform="translate(901.9 297.8) rotate(90)"><text x="0" y="0" font-size="23" textLength="16" lengthAdjust="spacingAndGlyphs" fill="#111" stroke="#111" stroke-width="0.35" >G</text></g>
<g transform="translate(897 316) rotate(90)"><text x="0" y="0" font-size="14" textLength="5.6" lengthAdjust="spacingAndGlyphs" fill="#111" stroke="#111" stroke-width="0.35" >s</text></g>
<g transform="translate(902.7 326.6) rotate(90)"><text x="0" y="0" font-size="24" textLength="12.3" lengthAdjust="spacingAndGlyphs" fill="#111" stroke="#111" stroke-width="0.35" >α</text></g>
<g transform="translate(884 338.9) rotate(90)"><text x="0" y="0" font-size="21" textLength="13" lengthAdjust="spacingAndGlyphs" fill="#111" stroke="#111" stroke-width="0.35" >G</text></g>
<g transform="translate(879.8 354.3) rotate(90)"><text x="0" y="0" font-size="13" textLength="5" lengthAdjust="spacingAndGlyphs" fill="#111" stroke="#111" stroke-width="0.35" >s</text></g>
<g transform="translate(884.5 361.7) rotate(90)"><text x="0" y="0" font-size="18.3" textLength="13" lengthAdjust="spacingAndGlyphs" fill="#111" stroke="#111" stroke-width="0.35" >β</text></g>
<g transform="translate(908.4 347) rotate(90)"><text x="0" y="0" font-size="21.5" textLength="14.7" lengthAdjust="spacingAndGlyphs" fill="#111" stroke="#111" stroke-width="0.35" >G</text></g>
<g transform="translate(903.3 364.9) rotate(90)"><text x="0" y="0" font-size="13" textLength="5" lengthAdjust="spacingAndGlyphs" fill="#111" stroke="#111" stroke-width="0.35" >s</text></g>
<g transform="translate(906.5 371.4) rotate(90)"><text x="0" y="0" font-size="22" textLength="10" lengthAdjust="spacingAndGlyphs" fill="#111" stroke="#111" stroke-width="0.35" >γ</text></g>
<path d="M 888 397.6 L 936 390.5 C 942 389.5, 943 395.5, 938 396.5 L 897 406.5 C 891 408, 891.5 413.5, 897 412.5 L 940 405 C 946 404, 947 411, 941 412 L 898 421 C 892 422.5, 892 427.5, 898 426.5 L 946 418.5 C 953 417.5, 953 425.5, 947 426.5 L 900 434.3 L 873 425.5 C 869 424.5, 869.5 427, 870 430 L 872 446 C 872.5 450, 874 451, 877 450 L 953 433.5 C 959 432.5, 959.5 439.5, 954 440.5 L 900 453.5 C 894 455, 894.5 459, 900 458 L 958 448.5 C 964 447.5, 965 455, 959 456 L 910 466 C 904 467.5, 904 471.5, 910 470.5 L 960 464 C 966 463.5, 966 471, 960 472 L 920 482.5 C 908 485.5, 900 481, 881 465.5" fill="none" stroke="#f4b80a" stroke-width="4.6" stroke-linecap="round" stroke-linejoin="round"/>
<path d="M 883.5 494.5 C 883 499, 886 501, 892 499 C 900 496, 908 490, 913 490 C 917 490, 917.5 493, 916 495" fill="none" stroke="#f4b80a" stroke-width="4.6" stroke-linecap="round"/>
<text x="973.3" y="236.4" font-size="23.3" textLength="107.5" lengthAdjust="spacingAndGlyphs" fill="#111" stroke="#111" stroke-width="0.5" >endosome</text>
<text x="954.5" y="375.7" font-size="23" font-weight="700" textLength="41" lengthAdjust="spacingAndGlyphs" fill="#111" stroke="#111" stroke-width="0.25" >PTH</text>
<text x="954.5" y="401.4" font-size="23" font-weight="700" textLength="88.9" lengthAdjust="spacingAndGlyphs" fill="#111" stroke="#111" stroke-width="0.25" >peptides</text>
<text x="797.7" y="490.7" font-size="23.5" textLength="58.7" lengthAdjust="spacingAndGlyphs" fill="#111" stroke="#111" stroke-width="0.5" >cAMP</text></svg></body></html>
